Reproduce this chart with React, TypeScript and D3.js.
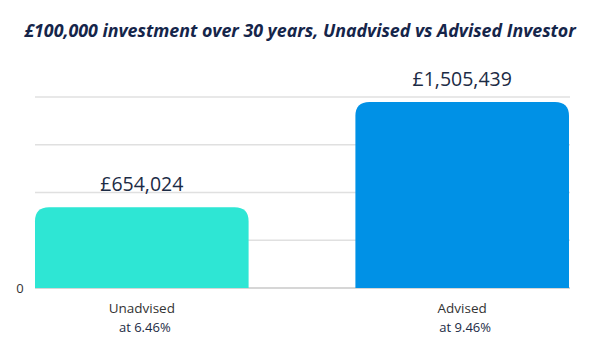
import React from 'react';
import * as d3 from 'd3';

const categories = ['Unadvised', 'Advised'];
const rates = ['at 6.46%', 'at 9.46%'];
const values = [654024, 1505439];
const valueLabels = ['£654,024', '£1,505,439'];
const colors = ['#2EE6D4', '#0091E6'];

const width = 600;
const height = 351;
const left = 35;
const right = 569;
const bottom = 288;
const top = 97;

const App = () => {
  const x = d3.scaleBand().domain(categories).range([left, right]).paddingInner(1 / 3).paddingOuter(0);
  const y = d3.scaleLinear().domain([0, 1546000]).range([bottom, top]);
  const grid = d3.range(0, 5).map(i => (1546000 / 4) * i);
  const r = 14;

  // rounded top corners only
  const barPath = (x0, y0, w, h) => {
    const rr = Math.min(r, h, w / 2);
    return `M${x0},${y0 + h}V${y0 + rr}Q${x0},${y0} ${x0 + rr},${y0}H${x0 + w - rr}Q${x0 + w},${y0} ${x0 + w},${y0 + rr}V${y0 + h}Z`;
  };

  return (
    <svg width={width} height={height} style={{ position: 'absolute', left: 0, top: 0 }}>
      <rect width={width} height={height} fill="#fff" />
      <text x={300} y={37} textAnchor="middle" fontFamily="Open Sans" fontStyle="italic" fontWeight="bold" fontSize={17.8} fill="#15254a">
        £100,000 investment over 30 years, Unadvised vs Advised Investor
      </text>
      {grid.map((g, i) => (
        <line key={i} x1={left} x2={right + 1} y1={y(g)} y2={y(g)} stroke={i === 0 ? '#d6d6d6' : '#e0e0e0'} strokeWidth={i === 0 ? 2 : 1.3} />
      ))}
      <text x={20} y={293} textAnchor="middle" fontFamily="Open Sans" fontSize={13} fill="#333">0</text>
      {categories.map((c, i) => {
        const bx = x(c);
        const bw = x.bandwidth();
        const by = y(values[i]);
        const cx = bx + bw / 2;
        return (
          <g key={c}>
            <path d={barPath(bx, by, bw, bottom - by)} fill={colors[i]} />
            <text x={cx} y={by - 16} textAnchor="middle" fontFamily="Open Sans" fontSize={19.5} fill="#1c2b45">{valueLabels[i]}</text>
            <text x={cx} y={313} textAnchor="middle" fontFamily="Open Sans" fontSize={13.5} fill="#333">{c}</text>
            <text x={cx + 3} y={332} textAnchor="middle" fontFamily="Open Sans" fontSize={13} fill="#1c2b45">{rates[i]}</text>
          </g>
        );
      })}
    </svg>
  );
};

export default App;
